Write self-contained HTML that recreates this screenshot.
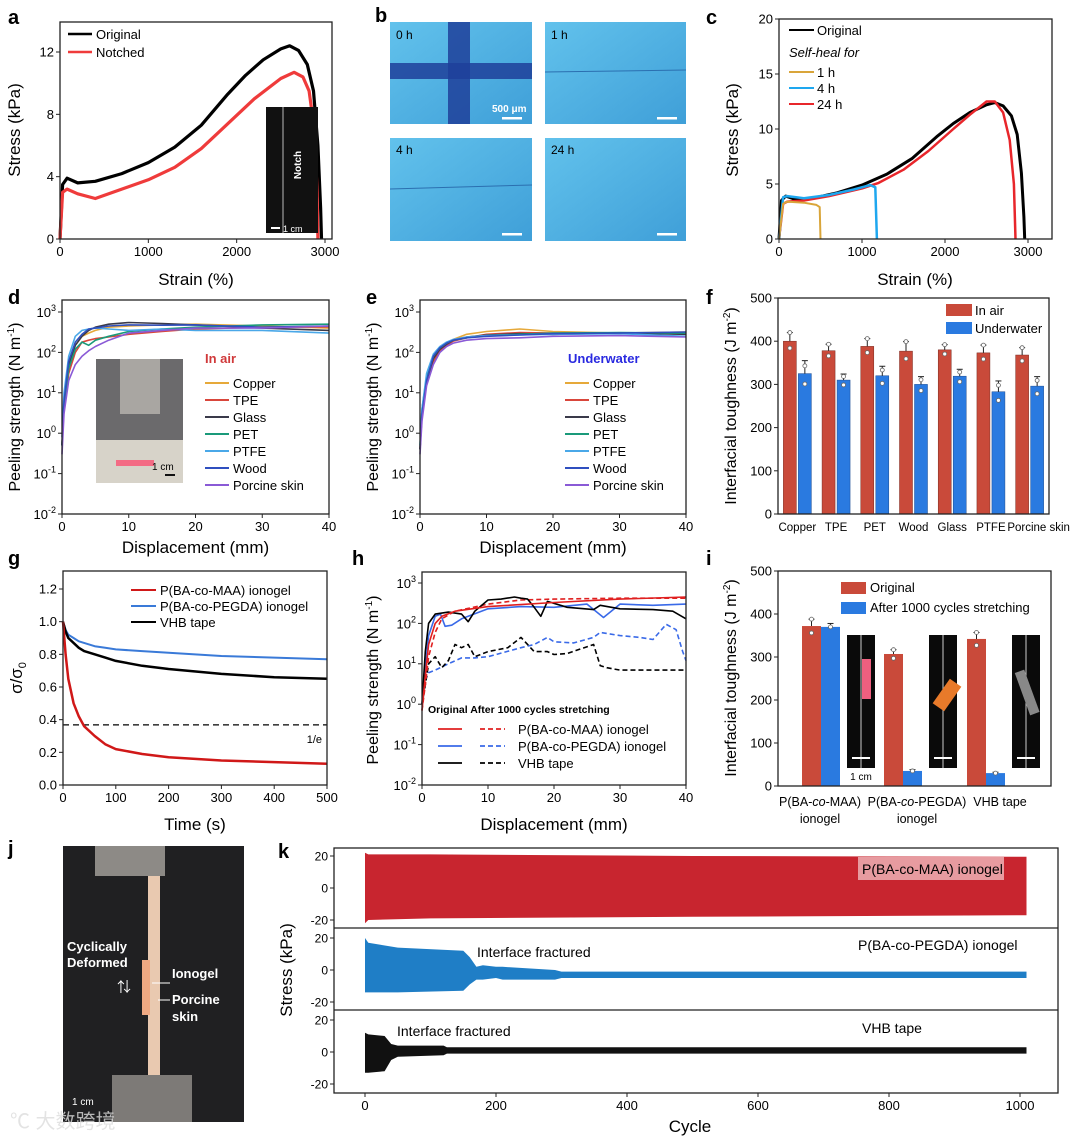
<!DOCTYPE html>
<html><head><meta charset="utf-8">
<style>
html,body{margin:0;padding:0;background:#fff;}
svg{display:block;font-family:"Liberation Sans","Noto Sans CJK SC",sans-serif;}
</style></head>
<body>
<svg id="fig" width="1080" height="1137" viewBox="0 0 1080 1137" xmlns="http://www.w3.org/2000/svg">
<defs>
<linearGradient id="blueImg" x1="0" y1="0" x2="1" y2="1"><stop offset="0" stop-color="#62c2ec"/><stop offset="1" stop-color="#3f9fd8"/></linearGradient>
</defs>
<g id="panel-b">
<text x="375" y="22" font-size="20" font-weight="bold">b</text>
<rect x="390" y="22" width="142" height="102" fill="url(#blueImg)"/>
<rect x="448" y="22" width="22" height="102" fill="#1e3f9a" opacity="0.85"/>
<rect x="390" y="63" width="142" height="16" fill="#1e3f9a" opacity="0.85"/>
<text x="396" y="39" font-size="12">0 h</text>
<text x="492" y="112" font-size="10" fill="#fff" font-weight="bold">500 μm</text>
<rect x="502" y="117" width="20" height="2.5" fill="#fff"/>
<rect x="545" y="22" width="141" height="102" fill="url(#blueImg)"/>
<line x1="545" y1="72" x2="686" y2="70" stroke="#2b6fb0" stroke-width="1"/>
<text x="551" y="39" font-size="12">1 h</text>
<rect x="657" y="117" width="20" height="2.5" fill="#fff"/>
<rect x="390" y="138" width="142" height="103" fill="url(#blueImg)"/>
<line x1="390" y1="189" x2="532" y2="185" stroke="#2b6fb0" stroke-width="1"/>
<text x="396" y="154" font-size="12">4 h</text>
<rect x="502" y="233" width="20" height="2.5" fill="#fff"/>
<rect x="545" y="138" width="141" height="103" fill="url(#blueImg)"/>
<text x="551" y="154" font-size="12">24 h</text>
<rect x="657" y="233" width="20" height="2.5" fill="#fff"/>
</g>
<g id="panel-j">
<text x="8" y="855" font-size="20" font-weight="bold">j</text>
<rect x="63" y="846" width="181" height="276" fill="#202022"/>
<rect x="95" y="846" width="70" height="30" fill="#8d8a86"/>
<rect x="148" y="876" width="12" height="230" fill="#e9c9b0"/>
<rect x="142" y="960" width="8" height="55" fill="#f0a982"/>
<rect x="112" y="1075" width="80" height="47" fill="#7d7a77"/>
<text x="67" y="951" font-size="13" font-weight="bold" fill="#fff">Cyclically</text>
<text x="67" y="967" font-size="13" font-weight="bold" fill="#fff">Deformed</text>
<text x="117" y="992" font-size="14" fill="#fff">⇅</text>
<line x1="152" y1="983" x2="170" y2="983" stroke="#fff"/>
<text x="172" y="978" font-size="13" font-weight="bold" fill="#fff">Ionogel</text>
<line x1="158" y1="1000" x2="170" y2="1000" stroke="#fff"/>
<text x="172" y="1004" font-size="13" font-weight="bold" fill="#fff">Porcine</text>
<text x="172" y="1021" font-size="13" font-weight="bold" fill="#fff">skin</text>
<text x="72" y="1105" font-size="10" fill="#fff">1 cm</text>
<text x="10" y="1128" font-size="20" fill="#ddd" opacity="0.8">℃ 大数跨境</text>
</g>
</svg>
<script>
const NS="http://www.w3.org/2000/svg";
const svg=document.getElementById('fig');
function mk(tag,attrs,parent){const e=document.createElementNS(NS,tag);for(const k in attrs)e.setAttribute(k,attrs[k]);(parent||svg).appendChild(e);return e;}
function lin(d0,d1,r0,r1){return v=>r0+(v-d0)*(r1-r0)/(d1-d0);}
function logs(e0,e1,r0,r1){return v=>r0+(Math.log10(v)-e0)*(r1-r0)/(e1-e0);}
function txt(x,y,s,size,opts,name){const t=mk('text',Object.assign({x:x,y:y,'font-size':size},opts||{}));t.textContent=s;


return t;}
function frame(x0,y0,x1,y1,name){const r=mk('rect',{x:x0,y:y0,width:x1-x0,height:y1-y0,fill:'none',stroke:'#222','stroke-width':1.3});

}
function xticks(sc,vals,labels,y,size){vals.forEach((v,i)=>{const l=mk('line',{x1:sc(v),x2:sc(v),y1:y,y2:y+4,stroke:'#222'});


txt(sc(v),y+17,labels[i],size||13,{'text-anchor':'middle'},'x-tick-label');});}
function yticks(sc,vals,labels,x,size){vals.forEach((v,i)=>{const l=mk('line',{x1:x-4,x2:x,y1:sc(v),y2:sc(v),stroke:'#222'});


txt(x-6,sc(v)+4.5,labels[i],size||13,{'text-anchor':'end'},'y-tick-label');});}
function ylogticks(sc,exps,x){exps.forEach(e=>{const y=sc(Math.pow(10,e));const l=mk('line',{x1:x-4,x2:x,y1:y,y2:y,stroke:'#222'});


const t=txt(x-6,y+5,'10',13,{'text-anchor':'end'},'y-tick-label');const s=document.createElementNS(NS,'tspan');s.setAttribute('dy','-6');s.setAttribute('font-size','9');s.textContent=e;t.appendChild(s);});}
function ytitle(x,y,s,size,name){const t=txt(x,y,s,size||17,{'text-anchor':'middle',transform:'rotate(-90 '+x+' '+y+')'},name);return t;}
function line(xs,ys,sx,sy,color,w,dash,name){let d='';xs.forEach((v,i)=>{d+=(i?'L':'M')+sx(v).toFixed(1)+','+sy(ys[i]).toFixed(1);});
const p=mk('path',{d:d,fill:'none',stroke:color,'stroke-width':w||1.5,'stroke-dasharray':dash||'none','stroke-linejoin':'round'});


return p;}
function legLine(x0,x1,y,color,w,dash){const l=mk('line',{x1:x0,x2:x1,y1:y,y2:y,stroke:color,'stroke-width':w||2,'stroke-dasharray':dash||'none'});

}
function rect(x,y,w,h,fill,name,extra){const r=mk('rect',Object.assign({x:x,y:y,width:w,height:h,fill:fill},extra||{}));


return r;}
function errbar(x,y0,y1,name){const l=mk('line',{x1:x,x2:x,y1:y0,y2:y1,stroke:'#222','stroke-width':1});


const c=mk('line',{x1:x-3,x2:x+3,y1:y1,y2:y1,stroke:'#222'});

}
function dot(x,y){const c=mk('circle',{cx:x,cy:y,r:2,fill:'#fff',stroke:'#666','stroke-width':0.8});

}

/* ---------- data: panel a ---------- */
const aOrigX=[0,30,80,200,400,700,1000,1300,1600,1900,2100,2300,2500,2600,2700,2800,2870,2920,2950,2960];
const aOrigY=[0,3.5,3.9,3.6,3.7,4.2,4.9,5.9,7.3,9.3,10.5,11.5,12.2,12.4,12.1,11.2,9.5,6,2,0];
const aNotchX=[0,30,80,200,400,700,1000,1300,1600,1900,2200,2500,2650,2750,2820,2880,2910,2920];
const aNotchY=[0,3,3.2,2.9,2.6,3.2,3.8,4.6,5.8,7.4,9,10.3,10.7,10.4,9.5,7,3,0];
/* ---------- panel c ---------- */
const c1hX=[0,50,100,300,450,490,500];
const c1hY=[0,3.2,3.4,3.3,3.1,2.9,0];
const c4hX=[0,50,100,300,600,900,1100,1160,1180];
const c4hY=[0,3.8,3.9,3.7,4,4.5,4.9,4.7,0];
const c24hX=[0,50,100,300,600,1000,1200,1500,1800,2100,2300,2500,2600,2700,2780,2830,2850];
const c24hY=[0,3.2,3.4,3.5,3.9,4.6,5.1,6.3,8,10,11.3,12.5,12.5,11.5,9,5,0];
/* ---------- panel d / e ---------- */
const peelX=[0,0.3,1,2,3,4,5,7,10,15,20,30,40];
const substrates=['Copper','TPE','Glass','PET','PTFE','Wood','Porcine skin'];
const dCopper=[0.5,5,40,150,250,300,350,420,450,480,500,450,400];
const dTPE=[0.5,4,30,100,180,200,220,240,280,330,380,420,430];
const dGlass=[0.5,6,50,150,250,350,420,500,550,520,480,400,350];
const dPET=[0.5,5,40,120,180,150,200,250,330,380,420,480,500];
const dPTFE=[0.8,10,80,250,350,380,400,380,350,380,350,350,300];
const dWood=[0.5,6,60,180,280,380,400,450,480,470,480,420,450];
const dPorcine=[0.3,3,20,50,80,110,140,200,300,350,400,400,450];
const eCopper=[0.4,3,20,70,120,170,210,280,330,380,330,300,320];
const eTPE=[0.4,3,18,60,110,150,190,230,280,310,300,290,300];
const eGlass=[0.4,3,20,70,120,160,200,240,270,290,280,300,280];
const ePET=[0.5,4,25,80,130,170,200,230,260,280,300,310,300];
const ePTFE=[0.5,4,30,90,140,180,210,240,260,270,280,290,250];
const eWood=[0.4,3,20,80,130,170,200,230,250,270,290,300,320];
const ePorcine=[0.3,2,15,50,100,140,170,200,220,230,250,260,240];
/* ---------- panel f ---------- */
const fCats=['Copper','TPE','PET','Wood','Glass','PTFE','Porcine skin'];
const fAir=[400,378,388,377,380,373,368];
const fAirErr=[20,15,18,22,12,18,17];
const fWater=[325,310,320,300,319,283,296];
const fWaterErr=[30,14,22,18,16,25,22];
/* ---------- panel g ---------- */
const gT=[0,5,10,20,30,40,60,80,100,150,200,300,400,500];
const gMAA=[1,0.8,0.65,0.5,0.42,0.36,0.3,0.25,0.22,0.19,0.17,0.15,0.14,0.13];
const gPEGDA=[1,0.95,0.92,0.9,0.88,0.87,0.85,0.84,0.83,0.82,0.81,0.79,0.78,0.77];
const gVHB=[1,0.94,0.9,0.87,0.84,0.82,0.8,0.78,0.76,0.73,0.71,0.68,0.66,0.65];
const gOneOverE=[0.368];
/* ---------- panel h ---------- */
const hMaaX=[0,0.5,1,2,3,5,10,20,30,40];
const hMaaY=[0.7,5,30,100,150,200,260,330,400,450];
const hMaaCycX=[0,0.5,1,2,3,5,10,15,20,30,40];
const hMaaCycY=[0.7,3,15,60,130,200,300,380,400,420,420];
const hPegX=[0,0.5,1,2,2.8,3.5,4.5,6,10,15,20,25,27.5,30,35,40];
const hPegY=[1,8,50,150,170,85,90,130,230,260,250,300,140,300,280,300];
const hPegCycX=[0,0.5,1,2,4,6,8,10,15,17,19,20,23,26,27,30,33,35,37,38.5,39.5,40];
const hPegCycY=[1,4,6,7,10,14,14,15,25,30,45,35,33,45,60,50,45,40,95,70,20,12];
const hVhbX=[0,0.5,1,2,3,4,5,6,7,8,10,12,14,15,16,17,18,19,22,26,27,30,35,38,40];
const hVhbY=[1,20,100,170,180,190,180,170,110,200,380,400,450,420,400,250,150,350,250,220,280,230,220,200,130];
const hVhbCycX=[0,0.5,1,2,3,4,5,6,7,8,10,13,15,17,19,20,22,26,27,28,30,35,40];
const hVhbCycY=[1,3,10,15,8,12,30,25,30,15,20,25,45,20,20,17,18,30,9,8,7,7,7];
/* ---------- panel i ---------- */
const iCats=[['P(BA-','co','-MAA)','ionogel'],['P(BA-','co','-PEGDA)','ionogel'],['VHB tape','','','']];
const iOrig=[372,307,342];
const iOrigErr=[16,10,15];
const iAfter=[370,35,30];
const iAfterErr=[8,3,2];
/* ---------- panel k ---------- */
const kMaaC=[0,5,100,500,1010];
const kMaaUp=[22,21,21,20,19.5];
const kMaaLo=[-22,-20,-19,-18,-17];
const kPegC=[0,5,50,150,160,170,180,200,210,290,300,1010];
const kPegUp=[20,17,14,12,8,2,3,2,2,0,-1,-1];
const kPegLo=[-14,-14,-14,-13,-9,-6,-6,-5,-6,-6,-5,-5];
const kVhbC=[0,5,30,40,50,120,125,1010];
const kVhbUp=[12,11,10,5,4,4,3,3];
const kVhbLo=[-13,-13,-12,-5,-3,-2,-1,-1];

/* ===== panel a ===== */
txt(8,24,'a',20,{'font-weight':'bold'},'panel-label-a');
{const sx=lin(0,3000,60,325),sy=lin(0,12,239,52);
line(aOrigX,aOrigY,sx,sy,'#000',3.2,null,'original-curve');
line(aNotchX,aNotchY,sx,sy,'#ef3b3b',3.2,null,'notched-curve');
rect(266,107,52,126,'#111','notch-inset-photo');
const nl=mk('line',{x1:283,x2:283,y1:107,y2:233,stroke:'#bbb','stroke-width':1});


txt(301,165,'Notch',10,{fill:'#fff','font-weight':'bold',transform:'rotate(-90 301 165)','text-anchor':'middle'},'notch-label');
rect(271,227,9,2,'#fff','inset-scale-bar');
txt(283,232,'1 cm',9,{fill:'#fff'},'inset-scale-label');
frame(60,22,332,239,'plot-frame-a');
xticks(sx,[0,1000,2000,3000],['0','1000','2000','3000'],239);
yticks(sy,[0,4,8,12],['0','4','8','12'],60);
txt(196,285,'Strain (%)',17,{'text-anchor':'middle'},'x-axis-title-a');
ytitle(20,130,'Stress (kPa)',17,'y-axis-title-a');
legLine(68,92,34,'#000',2.5);txt(96,39,'Original',13,{},'legend-original');
legLine(68,92,52,'#ef3b3b',2.5);txt(96,57,'Notched',13,{},'legend-notched');}

/* ===== panel c ===== */
txt(706,24,'c',20,{'font-weight':'bold'},'panel-label-c');
{const sx=lin(0,3000,779,1028),sy=lin(0,20,239,19);
line(aOrigX,aOrigY,sx,sy,'#000',3,null,'original-curve');
line(c24hX,c24hY,sx,sy,'#e8262b',2.5,null,'healed-24h-curve');
line(c4hX,c4hY,sx,sy,'#1ea7ef',2.5,null,'healed-4h-curve');
line(c1hX,c1hY,sx,sy,'#d9a53a',2,null,'healed-1h-curve');
frame(779,19,1052,239,'plot-frame-c');
xticks(sx,[0,1000,2000,3000],['0','1000','2000','3000'],239);
yticks(sy,[0,5,10,15,20],['0','5','10','15','20'],779);
txt(915,285,'Strain (%)',17,{'text-anchor':'middle'},'x-axis-title-c');
ytitle(738,130,'Stress (kPa)',17,'y-axis-title-c');
legLine(789,814,30,'#000',2);txt(817,35,'Original',13,{},'legend-original');
txt(789,57,'Self-heal for',13,{'font-style':'italic'},'legend-heading');
legLine(789,814,72,'#d9a53a',2);txt(817,77,'1 h',13,{},'legend-1h');
legLine(789,814,88,'#1ea7ef',2);txt(817,93,'4 h',13,{},'legend-4h');
legLine(789,814,104,'#e8262b',2);txt(817,109,'24 h',13,{},'legend-24h');}

/* ===== panels d & e ===== */
const subColors=['#e6a93a','#d9463b','#3a3a4a','#1a9a7a','#4aa8e8','#2f4fbf','#8a5ad6'];
function peelPanel(x0,x1,series,label,labColor,labX,legX,letter,photo){
txt(x0-54,304,letter,20,{'font-weight':'bold'},'panel-label-'+letter);
const sx=lin(0,40,x0,x1),sy=logs(-2,3,514,312);
if(photo){rect(96,359,87,124,'#6b6a6c','peel-setup-photo');rect(96,440,87,43,'#d7d3c9','substrate-photo');rect(120,359,40,55,'#a9a6a2','clamp-photo');rect(116,460,38,6,'#f36b84','ionogel-photo');rect(165,474,10,2,'#111','photo-scale-bar');txt(152,470,'1 cm',10,{},'photo-scale-label');}
series.forEach((s,i)=>line(peelX,s,sx,sy,subColors[i],1.6,null,'peel-curve-'+substrates[i].toLowerCase().replace(' ','-')));
frame(x0,300,x1,514,'plot-frame-'+letter);
xticks(sx,[0,10,20,30,40],['0','10','20','30','40'],514);
ylogticks(sy,[-2,-1,0,1,2,3],x0);
txt((x0+x1)/2,553,'Displacement (mm)',17,{'text-anchor':'middle'},'x-axis-title-'+letter);
const yt=ytitle(x0-42,407,'Peeling strength (N m',16,'y-axis-title-'+letter);
const sp=document.createElementNS(NS,'tspan');sp.setAttribute('dy','-6');sp.setAttribute('font-size','10');sp.textContent='-1';yt.appendChild(sp);
const sp2=document.createElementNS(NS,'tspan');sp2.setAttribute('dy','6');sp2.textContent=')';yt.appendChild(sp2);
txt(labX,363,label,13,{fill:labColor,'font-weight':'bold'},'legend-heading-'+letter);
substrates.forEach((n,i)=>{const y=383+i*17;legLine(legX,legX+24,y,subColors[i],2);txt(legX+28,y+5,n,13,{},'legend-'+n.toLowerCase().replace(' ','-'));});}
peelPanel(62,329,[dCopper,dTPE,dGlass,dPET,dPTFE,dWood,dPorcine],'In air','#d0393a',205,205,'d',true);
peelPanel(420,686,[eCopper,eTPE,eGlass,ePET,ePTFE,eWood,ePorcine],'Underwater','#2a2ae0',568,565,'e',false);

/* ===== panel f ===== */
txt(706,304,'f',20,{'font-weight':'bold'},'panel-label-f');
{const sy=lin(0,500,514,298);const bw=(1049-778)/fCats.length;
fCats.forEach((c,i)=>{const cx=778+bw*(i+0.5);
rect(cx-14,sy(fAir[i]),13,514-sy(fAir[i]),'#c94a3a','bar-air-'+c.toLowerCase().replace(' ','-'),{stroke:'#7a2a20','stroke-width':0.5});
rect(cx+1,sy(fWater[i]),13,514-sy(fWater[i]),'#2a7ae0','bar-underwater-'+c.toLowerCase().replace(' ','-'),{stroke:'#1a4a90','stroke-width':0.5});
errbar(cx-7.5,sy(fAir[i]),sy(fAir[i]+fAirErr[i]),'error-bar-air');
errbar(cx+7.5,sy(fWater[i]),sy(fWater[i]+fWaterErr[i]),'error-bar-underwater');
dot(cx-7.5,sy(fAir[i]+fAirErr[i]));dot(cx-7.5,sy(fAir[i]-fAirErr[i]*0.8));
dot(cx+7.5,sy(fWater[i]+fWaterErr[i]*0.6));dot(cx+7.5,sy(fWater[i]-fWaterErr[i]*0.8));
txt(i===6?cx+9:cx,531,c,11.5,{'text-anchor':'middle'},'x-category-label');});
frame(778,298,1049,514,'plot-frame-f');
yticks(sy,[0,100,200,300,400,500],['0','100','200','300','400','500'],778);
const yt=ytitle(736,406,'Interfacial toughness (J m',16,'y-axis-title-f');
const sp=document.createElementNS(NS,'tspan');sp.setAttribute('dy','-6');sp.setAttribute('font-size','10');sp.textContent='-2';yt.appendChild(sp);
const sp2=document.createElementNS(NS,'tspan');sp2.setAttribute('dy','6');sp2.textContent=')';yt.appendChild(sp2);
rect(946,304,26,12,'#c94a3a','legend-swatch-air');txt(975,315,'In air',13,{},'legend-in-air');
rect(946,322,26,12,'#2a7ae0','legend-swatch-underwater');txt(975,333,'Underwater',13,{},'legend-underwater');}

/* ===== panel g ===== */
txt(8,565,'g',20,{'font-weight':'bold'},'panel-label-g');
{const sx=lin(0,500,63,327),sy=lin(0,1.2,785,589);
line([0,500],[gOneOverE[0],gOneOverE[0]],sx,sy,'#000',1.3,'6,4','one-over-e-line');
txt(322,743,'1/e',11,{'text-anchor':'end'},'one-over-e-label');
line(gT,gPEGDA,sx,sy,'#3a7ad8',2,null,'pegda-relaxation');
line(gT,gVHB,sx,sy,'#000',2.5,null,'vhb-relaxation');
line(gT,gMAA,sx,sy,'#d01818',2.5,null,'maa-relaxation');
frame(63,571,327,785,'plot-frame-g');
xticks(sx,[0,100,200,300,400,500],['0','100','200','300','400','500'],785);
yticks(sy,[0,0.2,0.4,0.6,0.8,1.0,1.2],['0.0','0.2','0.4','0.6','0.8','1.0','1.2'],63);
txt(195,830,'Time (s)',17,{'text-anchor':'middle'},'x-axis-title-g');
const yt=ytitle(22,678,'σ/σ',17,'y-axis-title-g');const sp=document.createElementNS(NS,'tspan');sp.setAttribute('dy','4');sp.setAttribute('font-size','11');sp.textContent='0';yt.appendChild(sp);
legLine(131,156,590,'#d01818',2);txt(160,595,'P(BA-co-MAA) ionogel',13,{},'legend-maa');
legLine(131,156,606,'#3a7ad8',2);txt(160,611,'P(BA-co-PEGDA) ionogel',13,{},'legend-pegda');
legLine(131,156,622,'#000',2);txt(160,627,'VHB tape',13,{},'legend-vhb');}

/* ===== panel h ===== */
txt(352,565,'h',20,{'font-weight':'bold'},'panel-label-h');
{const sx=lin(0,40,422,686),sy=logs(-2,3,785,583);
line(hPegCycX,hPegCycY,sx,sy,'#3a6ae8',1.6,'5,3','pegda-after-cycles');
line(hVhbCycX,hVhbCycY,sx,sy,'#000',1.6,'5,3','vhb-after-cycles');
line(hMaaCycX,hMaaCycY,sx,sy,'#e02020',1.6,'5,3','maa-after-cycles');
line(hPegX,hPegY,sx,sy,'#3a6ae8',1.6,null,'pegda-original');
line(hVhbX,hVhbY,sx,sy,'#000',1.6,null,'vhb-original');
line(hMaaX,hMaaY,sx,sy,'#e02020',1.6,null,'maa-original');
frame(422,572,686,785,'plot-frame-h');
xticks(sx,[0,10,20,30,40],['0','10','20','30','40'],785);
ylogticks(sy,[-2,-1,0,1,2,3],422);
txt(554,830,'Displacement (mm)',17,{'text-anchor':'middle'},'x-axis-title-h');
const yt=ytitle(378,680,'Peeling strength (N m',16,'y-axis-title-h');
const sp=document.createElementNS(NS,'tspan');sp.setAttribute('dy','-6');sp.setAttribute('font-size','10');sp.textContent='-1';yt.appendChild(sp);
const sp2=document.createElementNS(NS,'tspan');sp2.setAttribute('dy','6');sp2.textContent=')';yt.appendChild(sp2);
txt(428,713,'Original  After 1000 cycles stretching',10.5,{'font-weight':'bold'},'legend-heading-h');
[['#e02020','P(BA-co-MAA) ionogel'],['#3a6ae8','P(BA-co-PEGDA) ionogel'],['#000','VHB tape']].forEach((s,i)=>{const y=729+i*17;legLine(438,462,y,s[0],1.8);legLine(480,505,y,s[0],1.8,'5,3');txt(518,y+5,s[1],13,{},'legend-h-'+i);});}

/* ===== panel i ===== */
txt(706,565,'i',20,{'font-weight':'bold'},'panel-label-i');
{const sy=lin(0,500,786,571);const centers=[821,903,986];const labelX=[820,917,1000];
centers.forEach((cx,i)=>{
rect(cx-19,sy(iOrig[i]),19,786-sy(iOrig[i]),'#c94a3a','bar-original-'+i);
rect(cx,sy(iAfter[i]),19,786-sy(iAfter[i]),'#2a7ae0','bar-after-cycles-'+i);
errbar(cx-9.5,sy(iOrig[i]),sy(iOrig[i]+iOrigErr[i]),'error-bar-original');
errbar(cx+9.5,sy(iAfter[i]),sy(iAfter[i]+iAfterErr[i]),'error-bar-after');
dot(cx-9.5,sy(iOrig[i]+iOrigErr[i]));dot(cx-9.5,sy(iOrig[i]-iOrigErr[i]));dot(cx+9.5,sy(iAfter[i]));
const ix=cx+26;rect(ix,635,28,133,'#0a0a0a','inset-photo-'+i);
const il=mk('line',{x1:ix+14,x2:ix+14,y1:635,y2:768,stroke:'#ccc','stroke-width':1});


rect(ix+5,757,18,2,'#fff','inset-scale-bar');
const c=iCats[i];const lx=labelX[i];
if(c[1]){const t=txt(lx,806,c[0],12.5,{'text-anchor':'middle'},'x-category-label');const s1=document.createElementNS(NS,'tspan');s1.setAttribute('font-style','italic');s1.textContent=c[1];t.appendChild(s1);const s2=document.createElementNS(NS,'tspan');s2.textContent=c[2];t.appendChild(s2);txt(lx,823,c[3],12.5,{'text-anchor':'middle'},'x-category-label-2');}
else txt(lx,806,c[0],12.5,{'text-anchor':'middle'},'x-category-label');});
rect(862,659,9,40,'#ef5f7f','pink-ionogel-in-inset');
rect(940,680,14,30,'#e87a2a','orange-ionogel-in-inset',{transform:'rotate(35 947 695)'});
rect(1022,670,10,45,'#888','gray-vhb-in-inset',{transform:'rotate(-20 1027 692)'});
txt(861,780,'1 cm',10,{'text-anchor':'middle'},'inset-scale-label');
frame(778,571,1051,786,'plot-frame-i');
yticks(sy,[0,100,200,300,400,500],['0','100','200','300','400','500'],778);
const yt=ytitle(736,678,'Interfacial toughness (J m',16,'y-axis-title-i');
const sp=document.createElementNS(NS,'tspan');sp.setAttribute('dy','-6');sp.setAttribute('font-size','10');sp.textContent='-2';yt.appendChild(sp);
const sp2=document.createElementNS(NS,'tspan');sp2.setAttribute('dy','6');sp2.textContent=')';yt.appendChild(sp2);
rect(841,582,25,12,'#c94a3a','legend-swatch-original');txt(870,592,'Original',13,{},'legend-original-i');
rect(841,602,25,12,'#2a7ae0','legend-swatch-after');txt(870,612,'After 1000 cycles stretching',13,{},'legend-after-i');}

/* ===== panel k ===== */
txt(278,858,'k',20,{'font-weight':'bold'},'panel-label-k');
{const sx=lin(0,1000,365,1020);
function band(cs,up,lo,y0,color,name){const sy=lin(-20,20,y0+32,y0-32);let d='';
cs.forEach((c,i)=>{d+=(i?'L':'M')+sx(c).toFixed(1)+','+sy(up[i]).toFixed(1);});
for(let i=cs.length-1;i>=0;i--)d+='L'+sx(cs[i]).toFixed(1)+','+sy(lo[i]).toFixed(1);d+='Z';
const p=mk('path',{d:d,fill:color});


yticks(sy,[-20,0,20],['-20','0','20'],334,12);}
band(kMaaC,kMaaUp,kMaaLo,888,'#c8252f','maa-cyclic-stress-band');
band(kPegC,kPegUp,kPegLo,970,'#1f7ec6','pegda-cyclic-stress-band');
band(kVhbC,kVhbUp,kVhbLo,1052,'#111','vhb-cyclic-stress-band');
frame(334,848,1058,1093,'plot-frame-k');
[928,1010].forEach(y=>{const l=mk('line',{x1:334,x2:1058,y1:y,y2:y,stroke:'#222','stroke-width':1.3});

});
xticks(sx,[0,200,400,600,800,1000],['0','200','400','600','800','1000'],1093);
txt(690,1132,'Cycle',17,{'text-anchor':'middle'},'x-axis-title-k');
ytitle(292,970,'Stress (kPa)',17,'y-axis-title-k');
rect(858,857,146,23,'#e79ba0','maa-label-background');
txt(862,874,'P(BA-co-MAA) ionogel',14,{},'label-maa-k');
txt(477,957,'Interface fractured',14,{},'label-fracture-pegda');
txt(858,950,'P(BA-co-PEGDA) ionogel',14,{},'label-pegda-k');
txt(397,1036,'Interface fractured',14,{},'label-fracture-vhb');
txt(862,1033,'VHB tape',14,{},'label-vhb-k');}
</script>
</body></html>
